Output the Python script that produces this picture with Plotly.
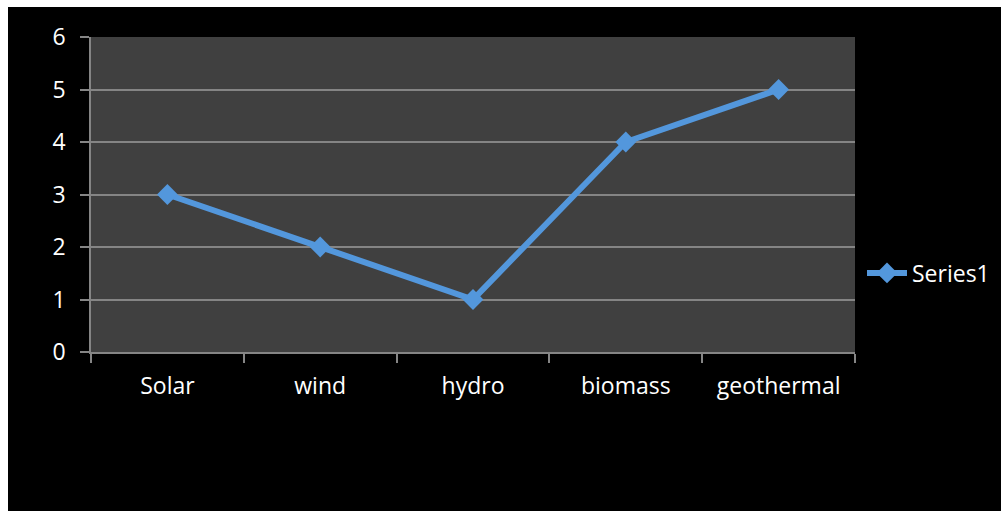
import plotly.graph_objects as go

# Energy sources and their values
categories = ["Solar", "wind", "hydro", "biomass", "geothermal"]
series1 = [3, 2, 1, 4, 5]
y_ticks = [0, 1, 2, 3, 4, 5, 6]

W, H = 1001, 511
# plot-area pixel box
L, R, T, B = 91, 855, 37, 352

def px_x(p):
    return (p - L) / (R - L)

def px_y(p):
    return (B - p) / (B - T)

FONT = "Open Sans"
FSIZE = 23
LINE_BLUE = "#5397DC"
GRID = "#858585"

fig = go.Figure()
fig.add_trace(go.Scatter(
    x=categories, y=series1, name="Series1", mode="lines+markers",
    line=dict(color=LINE_BLUE, width=6),
    marker=dict(symbol="diamond", size=16, color=LINE_BLUE,
                line=dict(width=0)),
))

fig.update_layout(
    width=W, height=H,
    margin=dict(l=L, r=W - R, t=T, b=H - B, pad=0, autoexpand=False),
    paper_bgcolor="black",
    plot_bgcolor="#404040",
    font=dict(family=FONT, size=FSIZE, color="white"),
    showlegend=True,
    legend=dict(x=px_x(862), y=px_y(273), xanchor="left", yanchor="middle",
                bgcolor="rgba(0,0,0,0)", font=dict(size=FSIZE, color="white"),
                itemwidth=40),
    xaxis=dict(
        type="category", range=[-0.5, 4.5], tickson="boundaries",
        showgrid=False, showline=True, linecolor=GRID, linewidth=1.5,
        ticks="outside", ticklen=9, tickcolor=GRID, tickwidth=1.5,
        ticklabelstandoff=13, zeroline=False, automargin=False,
        tickfont=dict(family=FONT, size=FSIZE, color="white"),
    ),
    yaxis=dict(
        range=[0, 6], tickvals=y_ticks, showgrid=True, gridcolor=GRID,
        gridwidth=1.5, showline=True, linecolor=GRID, linewidth=1.5,
        ticks="outside", ticklen=9, tickcolor=GRID, tickwidth=1.5,
        ticklabelstandoff=10, zeroline=False, automargin=False,
        tickfont=dict(family=FONT, size=FSIZE, color="white"),
    ),
    shapes=[
        # white frame strips at the top and left edges of the page
        dict(type="rect", xref="paper", yref="paper", layer="above",
             x0=px_x(-2), x1=px_x(W + 2), y0=px_y(-2), y1=px_y(7),
             fillcolor="white", line=dict(width=0)),
        dict(type="rect", xref="paper", yref="paper", layer="above",
             x0=px_x(-2), x1=px_x(8), y0=px_y(H + 2), y1=px_y(-2),
             fillcolor="white", line=dict(width=0)),
    ],
)

fig.write_html("out.html")
